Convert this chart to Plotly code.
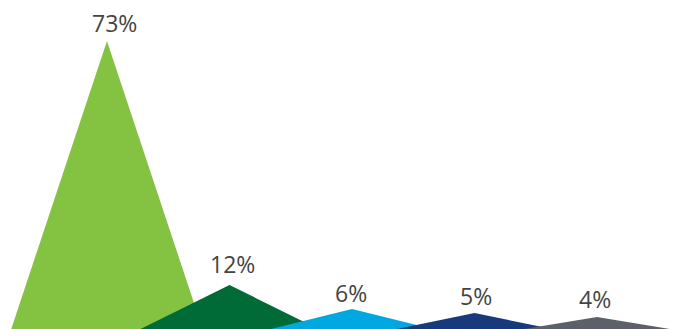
import plotly.graph_objects as go

categories = ["A", "B", "C", "D", "E"]
values = [73, 12, 6, 5, 4]
labels = ["73%", "12%", "6%", "5%", "4%"]
colors = ["#83C341", "#006B36", "#00A8E1", "#183A7C", "#5C6169"]
label_xshift = [8, 3, -1, 1, -2]
label_yshift = [0, 3, -2, -1, 0]

half_width = 0.792

fig = go.Figure()
for i, (v, c) in enumerate(zip(values, colors)):
    fig.add_trace(go.Scatter(
        x=[i - half_width, i, i + half_width, i - half_width],
        y=[0, v, 0, 0],
        fill="toself", fillcolor=c, mode="lines",
        line=dict(width=0, color=c), hoverinfo="skip", showlegend=False,
    ))
    fig.add_annotation(
        x=i, y=v, text=labels[i], showarrow=False,
        yanchor="bottom", xanchor="center",
        xshift=label_xshift[i], yshift=label_yshift[i],
        font=dict(family="Open Sans", size=23, color="#444444"),
    )

fig.update_layout(
    width=691, height=329,
    margin=dict(l=0, r=0, t=0, b=0),
    paper_bgcolor="white", plot_bgcolor="white",
    xaxis=dict(range=[-0.873, 4.767], visible=False, fixedrange=True),
    yaxis=dict(range=[1.0, 83.25], visible=False, fixedrange=True),
)
fig.write_html("out.html")
